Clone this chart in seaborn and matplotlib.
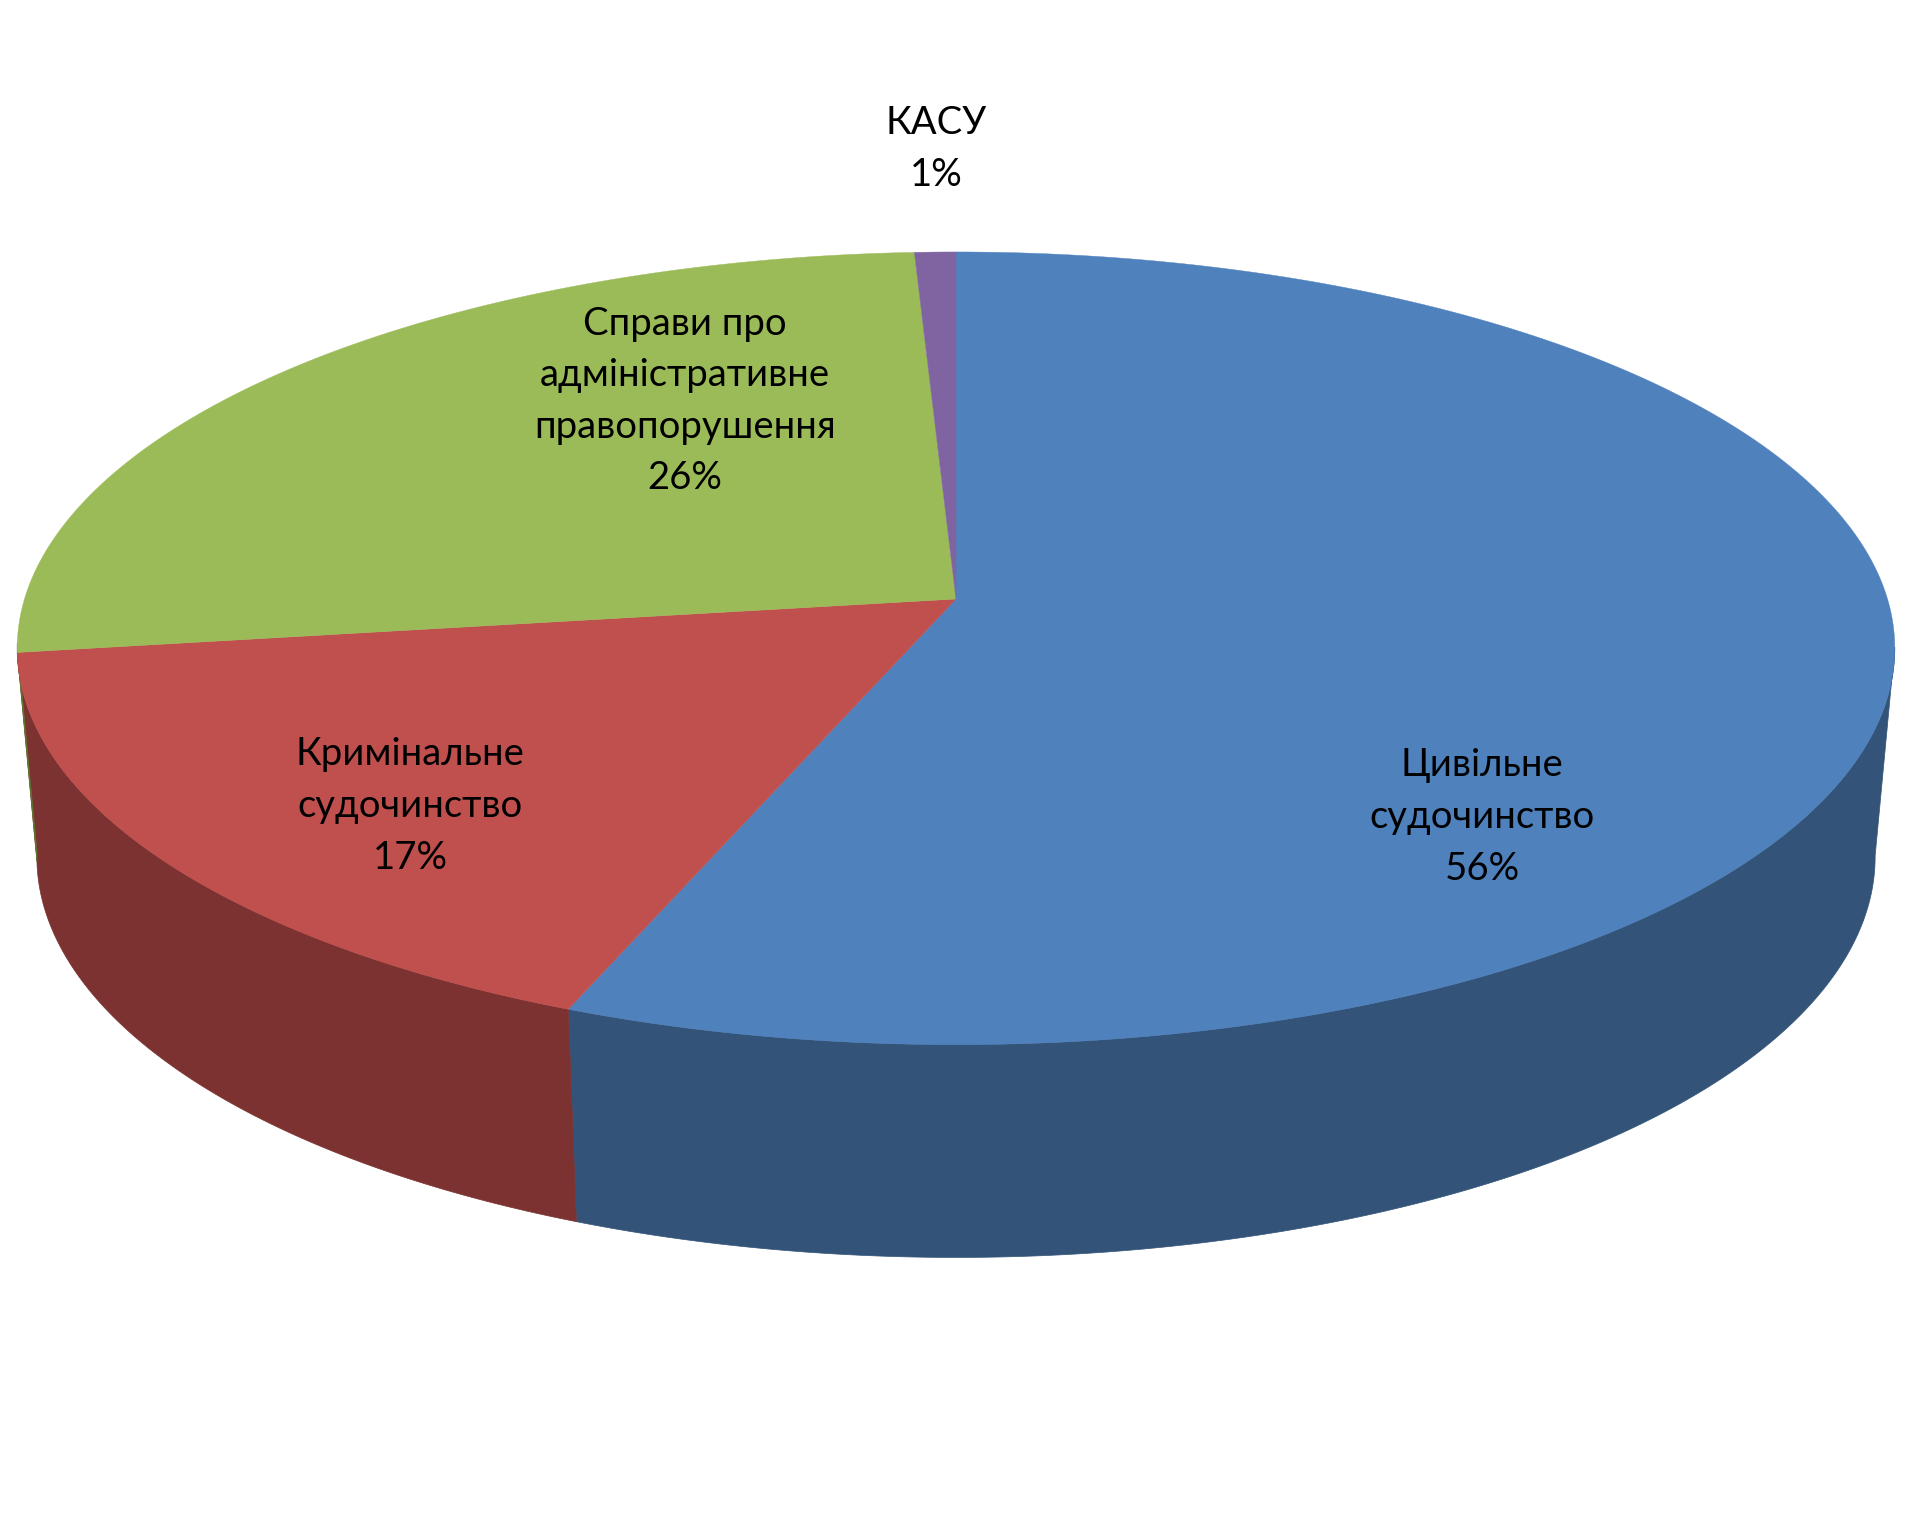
import numpy as np
import seaborn as sns
from matplotlib import pyplot as plt

sns.set_theme(style="white")
plt.rcParams['font.family'] = ['Lato', 'Open Sans', 'DejaVu Sans']

# share of each category, clockwise from 12 o'clock
labels = ['Цивільне\nсудочинство', 'Кримінальне\nсудочинство',
          'Справи про\nадміністративне\nправопорушення', 'КАСУ']
values = [56.0, 16.85, 26.35, 0.8]
top_colors = ['#4F81BD', '#C0504D', '#9BBB59', '#8064A2']
side_colors = ['#335478', '#7B3230', '#5F7530', '#4D3B62']
label_pos = [(1482, 817), (410, 806), (685, 401), (936, 149)]

# perspective of the disc, in pixels of the output
CX = 956
K = 0.1244
TOP = dict(y0=599, a=931.5, b=390.2)
BOTTOM = dict(y0=807, a=912, b=394.4)


def project(deg, surf):
    t = np.radians(deg)
    u, v = np.sin(t), np.cos(t)
    w = 1 + K * v
    return CX + surf['a'] * u / w, surf['y0'] - surf['b'] * v / w


fig = plt.figure(figsize=(19.09, 15.19), dpi=100)
ax = fig.add_axes([0, 0, 1, 1])
ax.set_xlim(0, 1909)
ax.set_ylim(1519, 0)
ax.axis('off')

edges = np.concatenate([[0], np.cumsum(values)]) / sum(values) * 360

# side wall, only the part turned to the viewer
for i in range(len(values)):
    start, end = max(edges[i], 97), min(edges[i + 1], 263.6)
    if end <= start:
        continue
    deg = np.linspace(start, end, 200)
    xt, yt = project(deg, TOP)
    xb, yb = project(deg[::-1], BOTTOM)
    ax.fill(np.r_[xt, xb], np.r_[yt, yb], color=side_colors[i], lw=0.5)

# top face
for i in range(len(values)):
    deg = np.linspace(edges[i], edges[i + 1], 300)
    x, y = project(deg, TOP)
    ax.fill(np.r_[CX, x], np.r_[TOP['y0'], y], color=top_colors[i], lw=0.3)

for lab, val, (x, y) in zip(labels, values, label_pos):
    ax.text(x, y, f'{lab}\n{val:.0f}%', ha='center', va='center', color='black',
            fontsize=27.5, linespacing=1.54)

fig.savefig('out.png', dpi=100)
